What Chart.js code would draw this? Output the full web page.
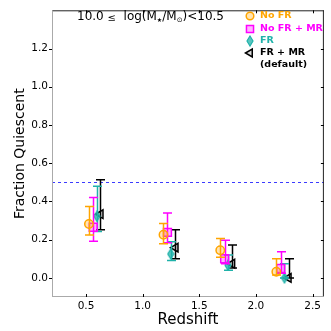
<!DOCTYPE html>
<html>
<head>
<meta charset="utf-8">
<script src="https://cdn.jsdelivr.net/npm/chart.js@4/dist/chart.umd.min.js"></script>
<style>
  html, body { margin: 0; padding: 0; background: #fff; }
  #wrap { width: 331px; height: 331px; }
</style>
</head>
<body>
<div id="wrap"><canvas id="chart" width="331" height="331"></canvas></div>
<script>
// axis ticks
const X_TICKS = [0.5, 1.0, 1.5, 2.0, 2.5];
const Y_TICKS = [0.0, 0.2, 0.4, 0.6, 0.8, 1.0, 1.2];
const QUIESCENT_LINE = 0.5;

// No FR
const noFrZ = [0.526, 1.184, 1.685, 2.180];
const noFrVal = [0.282, 0.226, 0.145, 0.032];
const noFrLo = [0.224, 0.179, 0.108, 0.015];
const noFrHi = [0.373, 0.285, 0.206, 0.100];

// No FR + MR
const noFrMrZ = [0.564, 1.219, 1.724, 2.219];
const noFrMrVal = [0.265, 0.238, 0.100, 0.049];
const noFrMrLo = [0.192, 0.184, 0.074, 0.024];
const noFrMrHi = [0.420, 0.339, 0.197, 0.137];

// FR
const frZ = [0.596, 1.248, 1.753, 2.252];
const frVal = [0.322, 0.125, 0.066, 0.000];
const frLo = [0.243, 0.091, 0.040, 0.000];
const frHi = [0.480, 0.189, 0.120, 0.074];

// FR + MR (default)
const frMrZ = [0.628, 1.290, 1.790, 2.288];
const frMrVal = [0.333, 0.158, 0.074, 0.000];
const frMrLo = [0.252, 0.100, 0.052, 0.000];
const frMrHi = [0.513, 0.252, 0.172, 0.100];

const FONT = "'DejaVu Sans', sans-serif";
const ORANGE = '#ffa500';
const MAGENTA = '#ff00ff';
const TEAL = '#20b2aa';
const BLACK = '#000000';

// thin diamond marker (matplotlib 'd')
function makeDiamond(w, h, fill, edge) {
  let c = document.createElement('canvas');
  c.width = w + 2; c.height = h + 2;
  let g = c.getContext('2d');
  g.beginPath();
  g.moveTo(c.width / 2, 1);
  g.lineTo(c.width - 1, c.height / 2);
  g.lineTo(c.width / 2, c.height - 1);
  g.lineTo(1, c.height / 2);
  g.closePath();
  g.fillStyle = fill; g.fill();
  g.strokeStyle = edge; g.lineWidth = 1.2; g.stroke();
  return c;
}
const diamond = makeDiamond(6, 10, 'rgba(32,178,170,0.75)', TEAL);

function pts(xs, ys) {
  return xs.map((x, i) => ({ x: x, y: ys[i] }));
}

const errBars = [
  { lo: noFrLo, hi: noFrHi, color: ORANGE },
  { lo: noFrMrLo, hi: noFrMrHi, color: MAGENTA },
  { lo: frLo, hi: frHi, color: TEAL },
  { lo: frMrLo, hi: frMrHi, color: BLACK }
];

const errorBarPlugin = {
  id: 'errorBars',
  beforeDatasetDraw(chart, args) {
    let eb = errBars[args.index];
    let meta = args.meta;
    let ys = chart.scales.y;
    let ctx = chart.ctx;
    ctx.save();
    ctx.strokeStyle = eb.color;
    ctx.lineWidth = 1.5;
    meta.data.forEach((p, j) => {
      let x = Math.round(p.x) + 0.5;
      let y0 = ys.getPixelForValue(eb.lo[j]);
      let y1 = ys.getPixelForValue(eb.hi[j]);
      ctx.beginPath();
      ctx.moveTo(x, y0); ctx.lineTo(x, y1);
      ctx.moveTo(x - 4.5, y0); ctx.lineTo(x + 4.5, y0);
      ctx.moveTo(x - 4.5, y1); ctx.lineTo(x + 4.5, y1);
      ctx.stroke();
    });
    ctx.restore();
  }
};

function drawMassLabel(ctx, x, y) {
  let parts = [
    ['10.0 ', 12, 0], ['\u2264', 10, 1], ['  log(M', 12, 0], ['\u2605', 6, 3],
    ['/M', 12, 0], ['\u2299', 7, 3], [')<10.5', 12, 0]
  ];
  ctx.textBaseline = 'middle';
  ctx.textAlign = 'left';
  ctx.fillStyle = '#000';
  for (let [t, s, dy] of parts) {
    ctx.font = s + 'px ' + FONT;
    ctx.fillText(t, x, y + dy);
    x += ctx.measureText(t).width;
  }
}

const framePlugin = {
  id: 'frame',
  beforeDatasetsDraw(chart) {
    let ctx = chart.ctx;
    let a = chart.chartArea;
    let ys = chart.scales.y;
    let y = Math.round(ys.getPixelForValue(QUIESCENT_LINE)) + 0.5;
    ctx.save();
    ctx.strokeStyle = '#3b3bff';
    ctx.lineWidth = 1;
    ctx.setLineDash([3, 3]);
    ctx.beginPath();
    ctx.moveTo(a.left, y); ctx.lineTo(a.right, y);
    ctx.stroke();
    ctx.restore();
  },
  afterDraw(chart) {
    let ctx = chart.ctx;
    let a = chart.chartArea;
    let xs = chart.scales.x, ys = chart.scales.y;
    ctx.save();
    ctx.lineWidth = 1;
    // frame
    ctx.strokeStyle = '#222';
    ctx.beginPath();
    ctx.moveTo(a.left, a.top + 0.5); ctx.lineTo(a.right, a.top + 0.5);
    ctx.moveTo(a.right - 0.5, a.top); ctx.lineTo(a.right - 0.5, a.bottom);
    ctx.stroke();
    ctx.strokeStyle = '#aaa';
    ctx.beginPath();
    ctx.moveTo(a.left + 0.5, a.top); ctx.lineTo(a.left + 0.5, a.bottom);
    ctx.moveTo(a.left, a.bottom - 0.5); ctx.lineTo(a.right, a.bottom - 0.5);
    ctx.stroke();
    // tick marks
    ctx.strokeStyle = '#000';
    ctx.beginPath();
    X_TICKS.forEach(v => {
      let x = Math.round(xs.getPixelForValue(v)) + 0.5;
      ctx.moveTo(x, a.bottom); ctx.lineTo(x, a.bottom - 3);
      ctx.moveTo(x, a.top); ctx.lineTo(x, a.top + 3);
    });
    Y_TICKS.forEach(v => {
      let y = Math.round(ys.getPixelForValue(v)) + 0.5;
      ctx.moveTo(a.left, y); ctx.lineTo(a.left - 3, y);
      ctx.moveTo(a.right, y); ctx.lineTo(a.right - 3, y);
    });
    ctx.stroke();

    drawMassLabel(ctx, 77, 17);

    // legend
    const H = Chart.helpers;
    let lx = 250, tx = 260;
    let rows = [
      { y: 16, text: 'No FR', color: ORANGE, style: 'circle', r: 3.8, fill: 'rgba(255,165,0,0.3)', rot: 0 },
      { y: 29, text: 'No FR + MR', color: MAGENTA, style: 'rect', r: 5, fill: 'rgba(255,0,255,0.3)', rot: 0 },
      { y: 41, text: 'FR', color: TEAL, style: diamond, r: 5, fill: TEAL, rot: 0 },
      { y: 53, text: 'FR + MR', color: BLACK, style: 'triangle', r: 4.5, fill: 'rgba(0,0,0,0.15)', rot: -90 }
    ];
    rows.forEach(row => {
      ctx.fillStyle = row.fill;
      ctx.strokeStyle = row.color;
      ctx.lineWidth = 1.5;
      H.drawPoint(ctx, { pointStyle: row.style, rotation: row.rot, radius: row.r, borderWidth: 1.5 }, lx, row.y);
      ctx.font = 'bold 9.5px ' + FONT;
      ctx.fillStyle = row.color;
      ctx.textBaseline = 'middle';
      ctx.textAlign = 'left';
      ctx.fillText(row.text, tx, row.y);
    });
    ctx.fillStyle = BLACK;
    ctx.fillText('(default)', tx, 65);
    ctx.restore();
  }
};

new Chart(document.getElementById('chart'), {
  type: 'scatter',
  data: {
    datasets: [
      {
        label: 'No FR', data: pts(noFrZ, noFrVal),
        pointStyle: 'circle', pointRadius: 4.2, borderWidth: 1.5,
        borderColor: ORANGE, backgroundColor: 'rgba(255,165,0,0.3)'
      },
      {
        label: 'No FR + MR', data: pts(noFrMrZ, noFrMrVal),
        pointStyle: 'rect', pointRadius: 5.6, borderWidth: 1.5,
        borderColor: MAGENTA, backgroundColor: 'rgba(255,0,255,0.3)'
      },
      {
        label: 'FR', data: pts(frZ, frVal),
        pointStyle: diamond, pointRadius: 5,
        borderColor: TEAL, backgroundColor: TEAL
      },
      {
        label: 'FR + MR (default)', data: pts(frMrZ, frMrVal),
        pointStyle: 'triangle', rotation: -90, pointRadius: 5, borderWidth: 1.5,
        borderColor: BLACK, backgroundColor: 'rgba(0,0,0,0.15)'
      }
    ]
  },
  options: {
    responsive: false,
    animation: false,
    devicePixelRatio: 1,
    layout: { padding: { top: 4, right: 3, left: 0, bottom: 0 } },
    plugins: { legend: { display: false }, tooltip: { enabled: false } },
    scales: {
      x: {
        type: 'linear', min: 0.2, max: 2.6,
        grid: { display: false, drawTicks: false },
        border: { display: false },
        afterBuildTicks: s => { s.ticks = X_TICKS.map(v => ({ value: v })); },
        afterFit: s => { s.height = 34; },
        ticks: {
          autoSkip: false, maxRotation: 0, padding: 3, color: '#000',
          font: { family: FONT, size: 10.5 },
          callback: v => v.toFixed(1)
        },
        title: {
          display: true, text: 'Redshift', color: '#000',
          font: { family: FONT, size: 15 }, padding: { top: 0, bottom: 2 }
        }
      },
      y: {
        type: 'linear', min: -0.1, max: 1.4,
        grid: { display: false, drawTicks: false },
        border: { display: false },
        afterBuildTicks: s => { s.ticks = Y_TICKS.map(v => ({ value: v })); },
        afterFit: s => { s.width = 52; },
        ticks: {
          autoSkip: false, padding: 4, color: '#000',
          font: { family: FONT, size: 10.5 },
          callback: v => v.toFixed(1)
        },
        title: {
          display: true, text: 'Fraction Quiescent', color: '#000',
          font: { family: FONT, size: 14 }, padding: { top: 12, bottom: 0 }
        }
      }
    }
  },
  plugins: [errorBarPlugin, framePlugin]
});
</script>
</body>
</html>
